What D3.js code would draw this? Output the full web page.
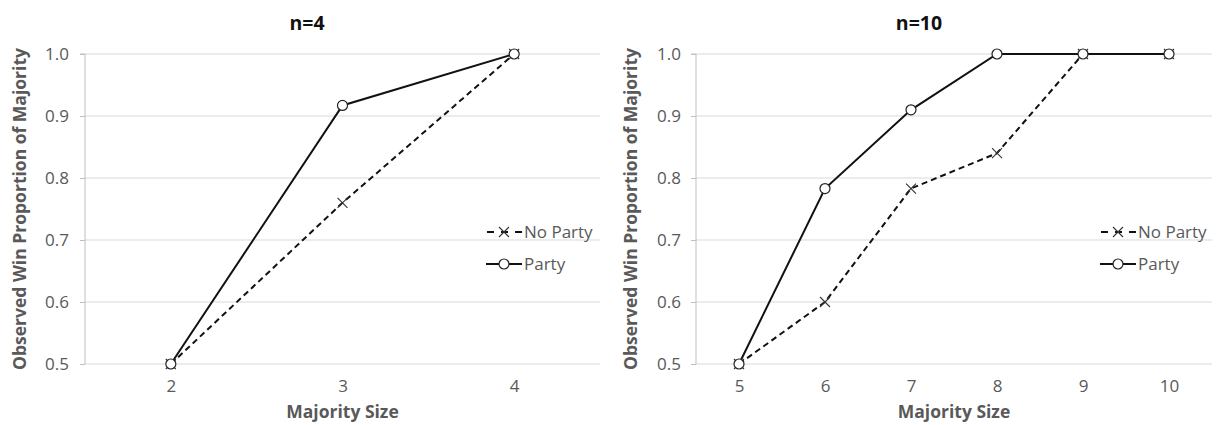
<!DOCTYPE html>
<html><head><meta charset="utf-8">
<script src="https://cdn.jsdelivr.net/npm/d3@7"></script>
<style>body{margin:0;background:#fff}svg{display:block}</style>
</head><body>
<svg id="c" width="1216" height="425"></svg>
<script>
const titles = ["n=4", "n=10"];
const catsA = ["2", "3", "4"];
const noPartyA = [0.5, 0.76, 1.0];
const partyA = [0.5, 0.917, 1.0];
const catsB = ["5", "6", "7", "8", "9", "10"];
const noPartyB = [0.5, 0.6, 0.783, 0.84, 1.0, 1.0];
const partyB = [0.5, 0.783, 0.91, 1.0, 1.0, 1.0];
const yTicks = [0.5, 0.6, 0.7, 0.8, 0.9, 1.0];
const seriesNames = ["No Party", "Party"];

const svg = d3.select("#c");
const font = "'Open Sans', 'Liberation Sans', sans-serif";
const gray = "#595959";

const panels = [
  {title: titles[0], cats: catsA, np: noPartyA, p: partyA, x0: 0, x1: 614, pl: 85, pr: 600, yl: 20, tickEnd: 69, legX: 486},
  {title: titles[1], cats: catsB, np: noPartyB, p: partyB, x0: 608, x1: 1230, pl: 696, pr: 1212, yl: 631, tickEnd: 681, legX: 1100}
];

panels.forEach(P => {
  const g = svg.append("g");
  const x = d3.scalePoint().domain(P.cats).range([P.pl, P.pr]).padding(0.5);
  const y = d3.scaleLinear().domain([0.5, 1.0]).range([364, 54]);

  g.selectAll(".grid").data(yTicks).join("line")
    .attr("x1", P.pl).attr("x2", P.pr)
    .attr("y1", d => y(d)).attr("y2", d => y(d))
    .attr("stroke", "#d9d9d9").attr("stroke-width", 1);

  const ya = g.append("g").attr("transform", `translate(${P.pl},0)`)
    .call(d3.axisLeft(y).tickValues(yTicks).tickFormat(d3.format(".1f")).tickSize(5).tickPadding(P.pl - P.tickEnd - 5));
  ya.select(".domain").attr("stroke", "#bfbfbf").attr("d", `M-5,${y(1.0)}H0V${y(0.5)}`);
  ya.selectAll(".tick line").attr("stroke", "#bfbfbf");
  ya.selectAll("text").attr("fill", gray).attr("font-family", font).attr("font-size", 17);

  const xa = g.append("g").attr("transform", `translate(0,${y(0.5)})`)
    .call(d3.axisBottom(x).tickSize(0).tickPadding(16));
  xa.select(".domain").remove();
  xa.selectAll("text").attr("fill", gray).attr("font-family", font).attr("font-size", 17);

  g.append("text").attr("x", (P.x0 + P.x1) / 2).attr("y", 30).attr("text-anchor", "middle")
    .attr("font-family", font).attr("font-weight", "bold").attr("font-size", 19.5).attr("fill", "#111").text(P.title);
  g.append("text").attr("x", (P.pl + P.pr) / 2).attr("y", 418).attr("text-anchor", "middle")
    .attr("font-family", font).attr("font-weight", "bold").attr("font-size", 17.5).attr("fill", gray).text("Majority Size");
  g.append("text").attr("transform", `translate(${P.yl},${y(0.75)}) rotate(-90)`).attr("text-anchor", "middle")
    .attr("dy", "0.35em")
    .attr("font-family", font).attr("font-weight", "bold").attr("font-size", 17.5).attr("fill", gray).text("Observed Win Proportion of Majority");

  const line = d3.line().x((d, i) => x(P.cats[i])).y(d => y(d));

  g.append("path").datum(P.np).attr("d", line).attr("fill", "none")
    .attr("stroke", "#111").attr("stroke-width", 2).attr("stroke-dasharray", "6,4");
  g.append("path").datum(P.p).attr("d", line).attr("fill", "none")
    .attr("stroke", "#111").attr("stroke-width", 2);

  const cross = (sel, cx, cy) => {
    const s = 5;
    sel.append("path").attr("d", `M${cx - s},${cy - s}L${cx + s},${cy + s}M${cx - s},${cy + s}L${cx + s},${cy - s}`)
      .attr("stroke", "#333").attr("stroke-width", 1.1).attr("fill", "none");
  };
  P.np.forEach((v, i) => cross(g, x(P.cats[i]), y(v)));
  g.selectAll(".pt").data(P.p).join("circle")
    .attr("cx", (d, i) => x(P.cats[i])).attr("cy", d => y(d)).attr("r", 5)
    .attr("fill", "#fff").attr("stroke", "#222").attr("stroke-width", 1.2);

  const lg = g.append("g");
  const ly = [232, 264];
  lg.append("line").attr("x1", P.legX).attr("x2", P.legX + 36).attr("y1", ly[0]).attr("y2", ly[0])
    .attr("stroke", "#111").attr("stroke-width", 2).attr("stroke-dasharray", "7,7").attr("stroke-dashoffset", -1);
  cross(lg, P.legX + 18, ly[0]);
  lg.append("text").attr("x", P.legX + 38).attr("y", ly[0]).attr("dy", "0.35em")
    .attr("font-family", font).attr("font-size", 17).attr("fill", gray).text(seriesNames[0]);
  lg.append("line").attr("x1", P.legX).attr("x2", P.legX + 36).attr("y1", ly[1]).attr("y2", ly[1])
    .attr("stroke", "#111").attr("stroke-width", 2);
  lg.append("circle").attr("cx", P.legX + 18).attr("cy", ly[1]).attr("r", 5)
    .attr("fill", "#fff").attr("stroke", "#222").attr("stroke-width", 1.2);
  lg.append("text").attr("x", P.legX + 38).attr("y", ly[1]).attr("dy", "0.35em")
    .attr("font-family", font).attr("font-size", 17).attr("fill", gray).text(seriesNames[1]);
});
</script>
</body></html>
